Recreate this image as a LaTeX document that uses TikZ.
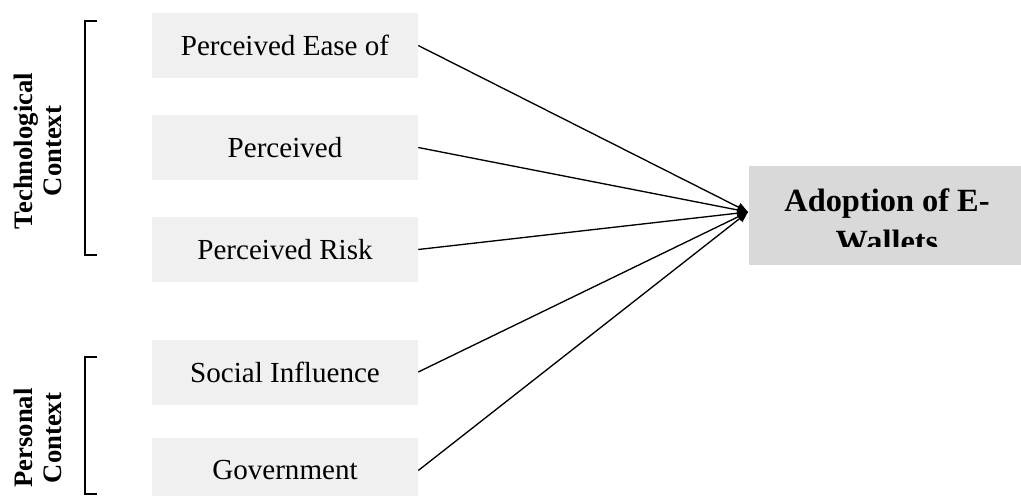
\documentclass[tikz,border=0pt]{standalone}
\usepackage{fontspec}
\setmainfont{Liberation Serif}
\usetikzlibrary{arrows.meta,positioning}

\begin{document}
\begin{tikzpicture}[x=0.75pt,y=-0.75pt,
  factor/.style={fill=gray!12,minimum width=199.5pt,minimum height=48.75pt,inner sep=0pt,
                 font=\fontsize{21.8}{25}\selectfont},
  goal/.style={fill=gray!30,minimum width=204pt,minimum height=74.25pt,inner sep=0pt},
  ctx/.style={rotate=90,align=center,inner sep=0pt,font=\fontsize{20}{22}\selectfont\bfseries},
  arr/.style={line width=1pt,-{Triangle[length=8pt,width=6.5pt]}}]
 \clip (0,0) rectangle (1021,496);
 \node[factor] (ease) at (285,45.5) {Perceived Ease of};
 \node[factor] (useful) at (285,147.5) {Perceived};
 \node[factor] (risk) at (285,249.5) {Perceived Risk};
 \node[factor] (social) at (285,372) {Social Influence};
 \node[factor] (gov) at (285,470.5) {Government};
 \node[goal] (adopt) at (885,215.5) {};
 \begin{scope}
  \clip (749,166) rectangle (1021,246);
  \node[align=center,inner sep=0pt,font=\fontsize{24.3}{31}\selectfont\bfseries] (adoptlabel) at (887,221) {Adoption of E-\\Wallets};
 \end{scope}
 \node[ctx] (tech) at (38,151) {Technological\\Context};
 \node[ctx] (pers) at (38,438) {Personal\\Context};
 \draw[line width=0.8pt] (97,21) -- (85,21) -- (85,255) -- (97,255);
 \draw[line width=0.8pt] (97,357) -- (85,357) -- (85,494) -- (97,494);
 \coordinate (tip) at (748,212);
 \draw[arr] (ease.east) -- (tip);
 \draw[arr] (useful.east) -- (tip);
 \draw[arr] (risk.east) -- (tip);
 \draw[arr] (social.east) -- (tip);
 \draw[arr] (gov.east) -- (tip);
\end{tikzpicture}
\end{document}
